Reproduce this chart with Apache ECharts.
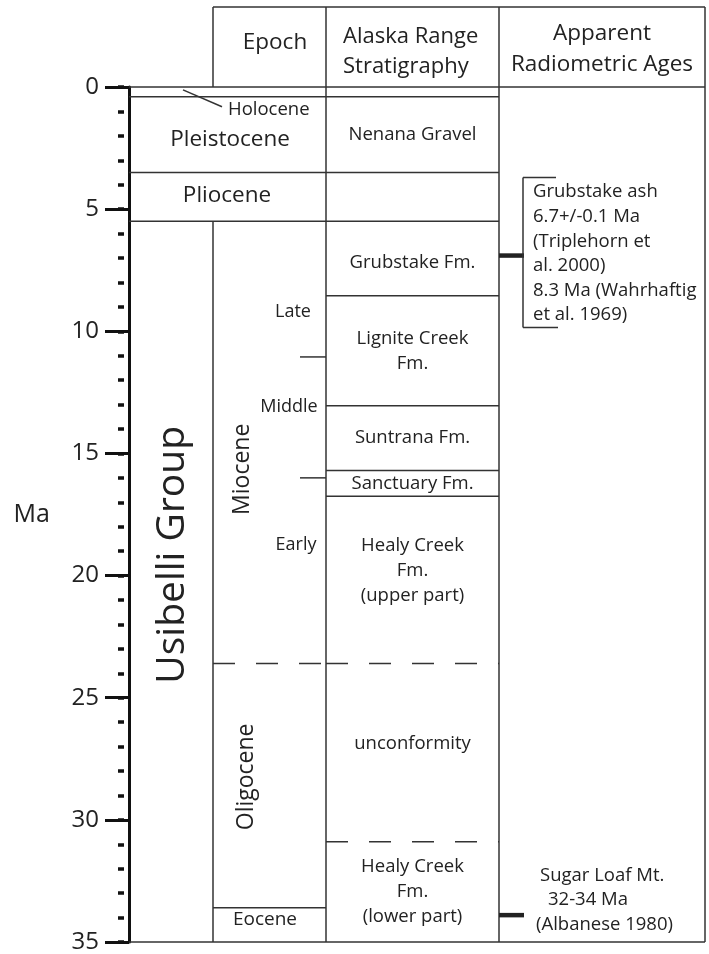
<!DOCTYPE html>
<html>
<head>
<meta charset="utf-8">
<title>Alaska Range stratigraphy</title>
<script src="https://cdn.jsdelivr.net/npm/echarts@6/dist/echarts.min.js"></script>
<style>
html, body { margin: 0; padding: 0; background: #fff; }
#chart { width: 709px; height: 954px; }
</style>
</head>
<body>
<div id="chart"></div>
<script>
// age axis, Ma
const ageTicks = [0, 5, 10, 15, 20, 25, 30, 35];
const minorStep = 1;

// epochs (base ages, Ma) as drawn in the column
const epochNames = ['Holocene', 'Pleistocene', 'Pliocene', 'Miocene', 'Oligocene', 'Eocene'];
const epochBases = [0.4, 3.5, 5.5, 23.6, 33.6, 35];
const epochContacts = ['solid', 'solid', 'solid', 'dashed', 'solid', 'solid'];

const subEpochNames = ['Late', 'Middle', 'Early'];
const subEpochBases = [11.05, 16.0, 23.6];

// Alaska Range stratigraphy
const formationNames = ['', 'Nenana Gravel', '', 'Grubstake Fm.', 'Lignite Creek\nFm.', 'Suntrana Fm.',
  'Sanctuary Fm.', 'Healy Creek\nFm.\n(upper part)', 'unconformity', 'Healy Creek\nFm.\n(lower part)'];
const formationBases = [0.4, 3.5, 5.5, 8.55, 13.05, 15.7, 16.75, 23.6, 30.9, 35];
const formationContacts = ['solid', 'solid', 'solid', 'solid', 'solid', 'solid', 'solid', 'dashed', 'dashed', 'solid'];

const groupName = 'Usibelli Group';
const groupRange = [5.5, 35];

// apparent radiometric ages
const ageMarks = [6.9, 33.9];
const ageBracket = [3.7, 9.85];
const ageNotes = [
  ['Grubstake ash', '6.7+/-0.1 Ma', '(Triplehorn et', 'al. 2000)', '8.3 Ma (Wahrhaftig', 'et al. 1969)'],
  ['Sugar Loaf Mt.', '32-34 Ma', '(Albanese 1980)']
];

const headers = ['Epoch', 'Alaska Range\nStratigraphy', 'Apparent\nRadiometric Ages'];

// ---- layout (x in px from the axis, y as age) ----
const FONT = '"Open Sans", sans-serif';
const INK = '#333';
const TEXT = '#222';
const WIDTH = 576;
const COLS = { group: [0, 84], epoch: [84, 197], strat: [197, 370], ages: [370, 576] };
const HEADER_H = 80;
const epochLabelAt = {
  Holocene: { x: 99, d: 0.94, size: 18.5, align: 'left' },
  Pleistocene: { x: 101, d: 2.16, size: 22.5 },
  Pliocene: { x: 98, d: 4.44, size: 22.5 },
  Miocene: { x: 113, d: 15.65, size: 23, rotate: true },
  Oligocene: { x: 117, d: 28.24, size: 23, rotate: true },
  Eocene: { x: 136, d: 34.1, size: 19 }
};
const subEpochLabelAt = [[164, 9.21], [160, 13.08], [167, 18.74]];
const stratLabelDy = [0, 0, 0, 4, 0, 0, 0, -9, -9, 0];
const noteLines = [[404, 404, 404, 404, 404, 404], [411, 419, 407]];

function renderColumn(params, api) {
  const X = u => api.coord([u, 0])[0];
  const Y = d => api.coord([0, d])[1];
  const top = Y(0) - HEADER_H;
  const kids = [];

  function seg(x1, y1, x2, y2, dashed, w) {
    kids.push({
      type: 'line',
      shape: { x1: x1, y1: y1, x2: x2, y2: y2 },
      style: { stroke: INK, lineWidth: w || 1.5, lineDash: dashed ? [22, 21] : null }
    });
  }
  function text(str, x, y, size, opt) {
    opt = opt || {};
    kids.push({
      type: 'text',
      x: x, y: y,
      rotation: opt.rotate ? Math.PI / 2 : 0,
      style: {
        text: str, fill: TEXT, font: size + 'px ' + FONT,
        align: opt.align || 'center', verticalAlign: 'middle', lineHeight: opt.lh || size * 1.4
      }
    });
  }

  // header
  seg(X(COLS.epoch[0]), top, X(WIDTH), top);
  [COLS.epoch[0], COLS.strat[0], COLS.ages[0], WIDTH].forEach(u => seg(X(u), top, X(u), Y(0)));
  text(headers[0], X(146), top + 36, 22.5);
  text(headers[1], X(214), top + 45, 22, { align: 'left', lh: 30 });
  text(headers[2], X(473), top + 42, 22.5, { lh: 31 });

  // body frame
  seg(X(0), Y(0), X(WIDTH), Y(0));
  seg(X(0), Y(35), X(WIDTH), Y(35));
  seg(X(COLS.group[1]), Y(groupRange[0]), X(COLS.group[1]), Y(groupRange[1]));
  [COLS.strat[0], COLS.strat[1], WIDTH].forEach(u => seg(X(u), Y(0), X(u), Y(35)));

  // epochs
  epochBases.forEach((d, i) => {
    const x0 = d <= groupRange[0] ? COLS.group[0] : COLS.epoch[0];
    if (d < 35) seg(X(x0), Y(d), X(COLS.epoch[1]), Y(d), epochContacts[i] === 'dashed');
    const lab = epochLabelAt[epochNames[i]];
    text(epochNames[i], X(lab.x), Y(lab.d), lab.size, lab);
  });
  seg(X(54), Y(0.12), X(93), Y(0.81));
  subEpochBases.forEach((d, i) => {
    if (i < subEpochBases.length - 1) seg(X(171), Y(d), X(COLS.epoch[1]), Y(d));
    text(subEpochNames[i], X(subEpochLabelAt[i][0]), Y(subEpochLabelAt[i][1]), 18);
  });
  text(groupName, X(44), Y(19.15), 39, { rotate: true });

  // formations
  const sx = (COLS.strat[0] + COLS.strat[1]) / 2;
  formationBases.forEach((d, i) => {
    const prev = i === 0 ? 0 : formationBases[i - 1];
    if (d < 35) seg(X(COLS.strat[0]), Y(d), X(COLS.strat[1]), Y(d), formationContacts[i] === 'dashed');
    if (formationNames[i]) text(formationNames[i], X(sx), (Y(prev) + Y(d)) / 2 + stratLabelDy[i], 18.5, { lh: 25 });
  });

  // radiometric ages
  ageMarks.forEach(d => {
    kids.push({
      type: 'line',
      shape: { x1: X(COLS.ages[0]), y1: Y(d), x2: X(395), y2: Y(d) },
      style: { stroke: '#222', lineWidth: 4.5 }
    });
  });
  seg(X(394), Y(ageBracket[0]), X(394), Y(ageBracket[1]));
  seg(X(394), Y(ageBracket[0]), X(427), Y(ageBracket[0]));
  seg(X(394), Y(ageBracket[1]), X(429), Y(ageBracket[1]));
  const noteCenter = [Y(ageMarks[0]) - 2, Y(ageMarks[1]) - 15];
  ageNotes.forEach((lines, n) => {
    const lh = 24.6;
    lines.forEach((ln, k) => {
      const y = noteCenter[n] + (k - (lines.length - 1) / 2) * lh;
      text(ln, X(noteLines[n][k]), y, 18.5, { align: 'left' });
    });
  });

  return { type: 'group', children: kids };
}

const chart = echarts.init(document.getElementById('chart'), null, { renderer: 'canvas' });
chart.setOption({
  backgroundColor: '#fff',
  animation: false,
  grid: { left: 129, right: 4, top: 87, bottom: 8 },
  xAxis: { type: 'value', min: 0, max: WIDTH, show: false },
  yAxis: [{
    type: 'value',
    inverse: true,
    min: ageTicks[0],
    max: ageTicks[ageTicks.length - 1],
    interval: ageTicks[1] - ageTicks[0],
    name: 'Ma',
    nameLocation: 'middle',
    nameRotate: 0,
    nameGap: 79,
    nameTextStyle: { fontSize: 25, color: TEXT, fontFamily: FONT },
    axisLine: { show: true, lineStyle: { color: '#111', width: 3 } },
    axisTick: { show: true, length: 24, lineStyle: { color: '#111', width: 3 } },
    axisLabel: { margin: 30, fontSize: 24, color: TEXT, fontFamily: FONT },
    splitLine: { show: false }
  }, {
    type: 'value',
    inverse: true,
    position: 'left',
    offset: 5,
    min: ageTicks[0],
    max: ageTicks[ageTicks.length - 1],
    interval: minorStep,
    axisLine: { show: false },
    axisTick: { show: true, length: 6, lineStyle: { color: '#111', width: 3.5 } },
    axisLabel: { show: false },
    splitLine: { show: false }
  }],
  series: [{
    type: 'custom',
    name: 'column',
    coordinateSystem: 'cartesian2d',
    yAxisIndex: 0,
    clip: false,
    silent: true,
    renderItem: renderColumn,
    data: [[0, 0]]
  }]
});
</script>
</body>
</html>
